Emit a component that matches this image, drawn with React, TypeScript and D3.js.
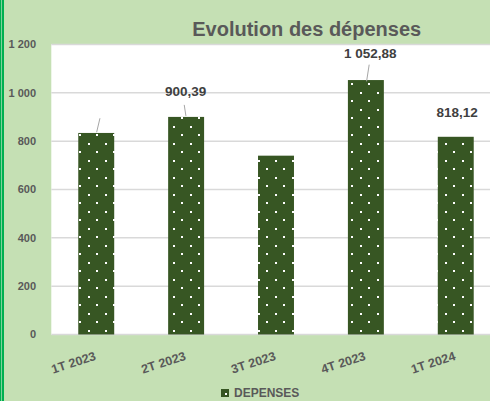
import React, { useEffect, useRef } from 'react';
import * as d3 from 'd3';

const QUARTERS = ['1T 2023', '2T 2023', '3T 2023', '4T 2023', '1T 2024'];
const DEPENSES = [834, 900.39, 740, 1052.88, 818.12];
const SHOW_LABEL = [false, true, false, true, true];
const Y_TICKS = [0, 200, 400, 600, 800, 1000, 1200];
const SERIES_NAME = 'DEPENSES';
const TITLE = 'Evolution des dépenses';

// label nudges (Excel labels were dragged by hand), relative to the top of the bar
const LABEL_NUDGE = [
  { dx: 0, dy: -20 },
  { dx: -0.5, dy: -21 },
  { dx: 0, dy: -20 },
  { dx: 4.3, dy: -22 },
  { dx: 1.3, dy: -19.5 },
];
// leader lines: [x1, y1, x2, y2] relative to top centre of bar, null = none
const LEADERS = [
  [0.4, -0.7, 3.7, -14.7],
  [-0.2, -1, -1.9, -12],
  null,
  [0.7, 1.3, 3.3, -15.4],
  null,
];

const fr = d3.formatLocale({ decimal: ',', thousands: ' ', grouping: [3], currency: ['', ' €'] });
const fmtValue = fr.format(',.2f');
const fmtTick = fr.format(',');

const App = () => {
  const ref = useRef<SVGSVGElement | null>(null);

  useEffect(() => {
    const width = 490,
      height = 401,
      plot = { left: 51.3, right: 500.7, top: 44.5, bottom: 334.5 },
      font = '"Liberation Sans", Arial, sans-serif';

    const svg = d3.select(ref.current);
    svg.selectAll('*').remove();

    // background + left border
    svg.append('rect').attr('width', width).attr('height', height).attr('fill', '#c5e0b4');
    svg.append('rect').attr('x', 0).attr('y', 0).attr('width', 4).attr('height', height).attr('fill', '#00b050');
    svg.append('rect').attr('x', 1).attr('y', 0).attr('width', 1).attr('height', height).attr('fill', '#7fd19b');

    // dotted fill
    const defs = svg.append('defs');
    const pat = defs
      .append('pattern')
      .attr('id', 'dots')
      .attr('patternUnits', 'userSpaceOnUse')
      .attr('x', 79)
      .attr('y', 134)
      .attr('width', 17)
      .attr('height', 17);
    pat.append('rect').attr('width', 17).attr('height', 17).attr('fill', '#375623');
    pat.append('rect').attr('x', 0).attr('y', 0).attr('width', 2).attr('height', 2).attr('fill', '#fff');
    pat.append('rect').attr('x', 9).attr('y', 9).attr('width', 2).attr('height', 2).attr('fill', '#fff');

    const legPat = defs
      .append('pattern')
      .attr('id', 'dotsLegend')
      .attr('patternUnits', 'userSpaceOnUse')
      .attr('x', 221)
      .attr('y', 389)
      .attr('width', 8)
      .attr('height', 8);
    legPat.append('rect').attr('width', 8).attr('height', 8).attr('fill', '#375623');
    legPat.append('rect').attr('x', 4).attr('y', 4).attr('width', 2).attr('height', 2).attr('fill', '#fff');

    // plot area
    svg
      .append('rect')
      .attr('x', plot.left)
      .attr('y', plot.top - 0.5)
      .attr('width', plot.right - plot.left)
      .attr('height', plot.bottom - plot.top + 1)
      .attr('fill', '#ffffff');

    const x = d3.scaleBand().domain(QUARTERS).range([plot.left, plot.right]).paddingInner(0.6).paddingOuter(0.3);
    const y = d3.scaleLinear().domain([0, 1200]).range([plot.bottom, plot.top]);

    // gridlines
    svg
      .append('g')
      .selectAll('line')
      .data(Y_TICKS)
      .enter()
      .append('line')
      .attr('x1', plot.left)
      .attr('x2', plot.right)
      .attr('y1', d => y(d))
      .attr('y2', d => y(d))
      .attr('stroke', '#d9d9d9')
      .attr('stroke-width', 1.5);

    // y labels
    svg
      .append('g')
      .selectAll('text')
      .data(Y_TICKS)
      .enter()
      .append('text')
      .attr('x', 36)
      .attr('y', d => y(d))
      .attr('dy', '0.36em')
      .attr('text-anchor', 'end')
      .attr('font-family', font)
      .attr('font-weight', 'bold')
      .attr('font-size', 11)
      .attr('fill', '#595959')
      .text(d => fmtTick(d));

    // bars
    svg
      .append('g')
      .selectAll('rect')
      .data(DEPENSES)
      .enter()
      .append('rect')
      .attr('x', (d, i) => x(QUARTERS[i]) as number)
      .attr('y', d => y(d))
      .attr('width', x.bandwidth())
      .attr('height', d => y(0) - y(d))
      .attr('fill', 'url(#dots)');

    const cx = (i: number) => (x(QUARTERS[i]) as number) + x.bandwidth() / 2;

    // leader lines
    svg
      .append('g')
      .selectAll('line')
      .data(DEPENSES.map((v, i) => ({ v, i, l: LEADERS[i] })).filter(d => d.l))
      .enter()
      .append('line')
      .attr('x1', d => cx(d.i) + d.l![0])
      .attr('y1', d => y(d.v) + d.l![1])
      .attr('x2', d => cx(d.i) + d.l![2])
      .attr('y2', d => y(d.v) + d.l![3])
      .attr('stroke', '#a6a6a6')
      .attr('stroke-width', 1);

    // data labels
    svg
      .append('g')
      .selectAll('text')
      .data(DEPENSES.map((v, i) => ({ v, i })).filter(d => SHOW_LABEL[d.i]))
      .enter()
      .append('text')
      .attr('x', d => cx(d.i) + LABEL_NUDGE[d.i].dx)
      .attr('y', d => y(d.v) + LABEL_NUDGE[d.i].dy)
      .attr('text-anchor', 'middle')
      .attr('font-family', font)
      .attr('font-weight', 'bold')
      .attr('font-size', 13.5)
      .attr('fill', '#404040')
      .text(d => fmtValue(d.v));

    // x labels, rotated
    svg
      .append('g')
      .selectAll('text')
      .data(QUARTERS)
      .enter()
      .append('text')
      .attr('transform', (d, i) => `translate(${cx(i) + 0.5},${y(0) + 25}) rotate(-18)`)
      .attr('text-anchor', 'end')
      .attr('font-family', font)
      .attr('font-weight', 'bold')
      .attr('font-size', 12.5)
      .attr('fill', '#595959')
      .text(d => d);

    // title
    svg
      .append('text')
      .attr('x', 306.7)
      .attr('y', 35.5)
      .attr('text-anchor', 'middle')
      .attr('font-family', font)
      .attr('font-weight', 'bold')
      .attr('font-size', 20)
      .attr('fill', '#595959')
      .text(TITLE);

    // legend
    svg
      .append('rect')
      .attr('x', 221)
      .attr('y', 389)
      .attr('width', 8)
      .attr('height', 8)
      .attr('fill', 'url(#dotsLegend)');
    svg
      .append('text')
      .attr('x', 234)
      .attr('y', 397.3)
      .attr('font-family', font)
      .attr('font-weight', 'bold')
      .attr('font-size', 12)
      .attr('fill', '#595959')
      .text(SERIES_NAME);
  }, []);

  return (
    <div style={{ position: 'fixed', left: 0, top: 0 }}>
      <svg ref={ref} width={490} height={401} style={{ display: 'block' }}></svg>
    </div>
  );
};

export default App;
